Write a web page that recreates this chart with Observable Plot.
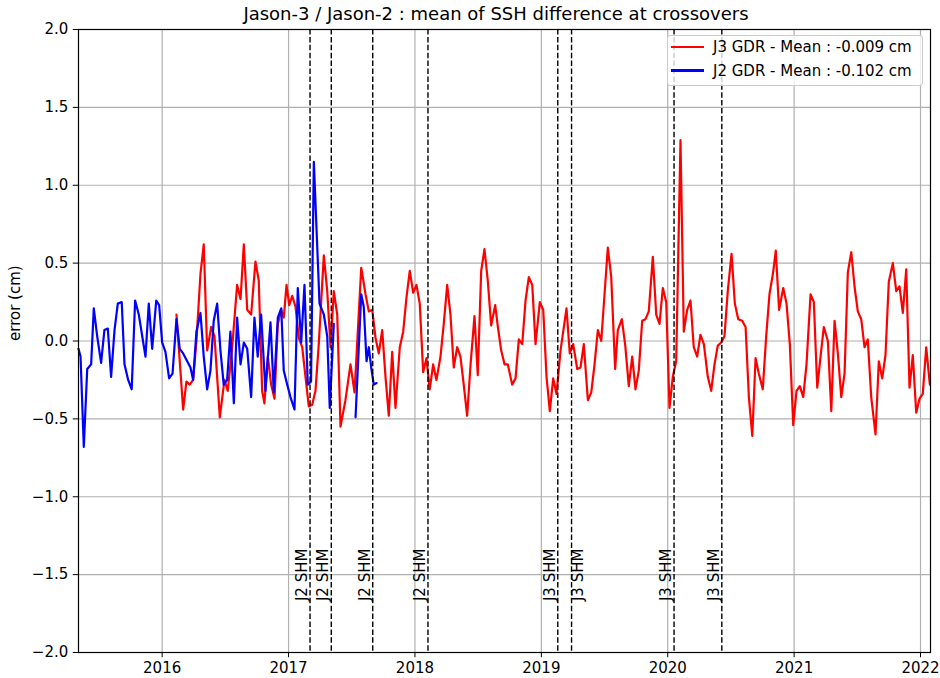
<!DOCTYPE html>
<html>
<head>
<meta charset="utf-8">
<script src="https://cdn.jsdelivr.net/npm/d3@7"></script>
<script src="https://cdn.jsdelivr.net/npm/@observablehq/plot@0.6"></script>
<style>
  html, body { margin: 0; padding: 0; background: #fff; }
  body { font-family: "DejaVu Sans", sans-serif; color: #000; }
  #wrap { position: relative; width: 940px; height: 678px; overflow: hidden; }
  #title { position: absolute; left: 0; top: 1.5px; width: 992px; text-align: center;
           font-size: 18px; line-height: 24px; white-space: nowrap; }
  #chart { position: absolute; left: 0; top: 24px; }
  #legend { position: absolute; left: 667px; top: 35px; width: 256px; height: 51px;
            box-sizing: border-box; border: 1.3px solid #cccccc; border-radius: 3px;
            background: rgba(255,255,255,0.8); }
  .lg-line { position: absolute; left: 3px; width: 33px; height: 2.2px; }
  .lg-text { position: absolute; left: 45px; font-size: 15px; line-height: 20px; white-space: nowrap; }
</style>
</head>
<body>
<div id="wrap">
  <div id="title"></div>
  <div id="chart"></div>
  <div id="legend"></div>
</div>
<script>
// ---------------- data ----------------
const titleText = "Jason-3 / Jason-2 : mean of SSH difference at crossovers";
const yLabel = "error (cm)";
const seriesNames = ["J3 GDR", "J2 GDR"];
const seriesMeans = [-0.009, -0.102];
const seriesColors = ["red", "blue"];

const xTicks = [2016, 2017, 2018, 2019, 2020, 2021, 2022];
const yTicks = [-2.0, -1.5, -1.0, -0.5, 0.0, 0.5, 1.0, 1.5, 2.0];

// Jason-3 (red)
const j3Years = [
  2016.113, 2016.166, 2016.192, 2016.218, 2016.245, 2016.271, 2016.303, 2016.329, 2016.356, 2016.388,
  2016.414, 2016.456, 2016.493, 2016.519, 2016.554, 2016.593, 2016.620, 2016.646, 2016.673, 2016.704,
  2016.738, 2016.764, 2016.791, 2016.809, 2016.836, 2016.862, 2016.889, 2016.915, 2016.942, 2016.962,
  2016.984, 2017.005, 2017.029, 2017.055, 2017.081, 2017.108, 2017.134, 2017.160, 2017.187, 2017.213,
  2017.239, 2017.279, 2017.306, 2017.332, 2017.358, 2017.385, 2017.411, 2017.450, 2017.490, 2017.522,
  2017.575, 2017.609, 2017.635, 2017.662, 2017.688, 2017.714, 2017.741, 2017.767, 2017.793, 2017.820,
  2017.846, 2017.880, 2017.907, 2017.933, 2017.959, 2017.986, 2018.012, 2018.038, 2018.065, 2018.091,
  2018.117, 2018.144, 2018.170, 2018.202, 2018.228, 2018.255, 2018.281, 2018.307, 2018.334, 2018.360,
  2018.386, 2018.413, 2018.440, 2018.471, 2018.497, 2018.524, 2018.550, 2018.576, 2018.603, 2018.635,
  2018.656, 2018.682, 2018.709, 2018.735, 2018.769, 2018.796, 2018.822, 2018.849, 2018.875, 2018.901,
  2018.928, 2018.954, 2018.988, 2019.015, 2019.041, 2019.067, 2019.094, 2019.120, 2019.152, 2019.199,
  2019.225, 2019.252, 2019.284, 2019.310, 2019.336, 2019.368, 2019.395, 2019.421, 2019.447, 2019.474,
  2019.500, 2019.526, 2019.553, 2019.584, 2019.605, 2019.637, 2019.664, 2019.692, 2019.719, 2019.745,
  2019.771, 2019.798, 2019.824, 2019.850, 2019.882, 2019.909, 2019.935, 2019.961, 2019.988, 2020.014,
  2020.040, 2020.067, 2020.101, 2020.127, 2020.154, 2020.180, 2020.206, 2020.233, 2020.259, 2020.286,
  2020.317, 2020.344, 2020.370, 2020.396, 2020.423, 2020.449, 2020.475, 2020.505, 2020.531, 2020.558,
  2020.589, 2020.616, 2020.642, 2020.669, 2020.695, 2020.721, 2020.752, 2020.779, 2020.805, 2020.832,
  2020.855, 2020.881, 2020.914, 2020.940, 2020.966, 2020.993, 2021.019, 2021.045, 2021.072, 2021.098,
  2021.130, 2021.156, 2021.183, 2021.209, 2021.235, 2021.267, 2021.294, 2021.320, 2021.346, 2021.373,
  2021.399, 2021.425, 2021.452, 2021.478, 2021.504, 2021.531, 2021.557, 2021.583, 2021.610, 2021.644,
  2021.670, 2021.697, 2021.723, 2021.749, 2021.781, 2021.808, 2021.834, 2021.860, 2021.887, 2021.913,
  2021.939, 2021.966, 2021.992, 2022.018, 2022.045, 2022.074
];
const j3Values = [
  0.17, -0.44, -0.26, -0.28, -0.25, 0.00, 0.43, 0.62, -0.06, 0.09,
  0.03, -0.49, -0.25, -0.32, -0.04, 0.36, 0.27, 0.62, 0.20, 0.17,
  0.51, 0.39, -0.32, -0.40, -0.10, -0.28, -0.37, 0.11, 0.20, 0.15,
  0.36, 0.23, 0.29, 0.22, 0.02, -0.04, -0.23, -0.42, -0.41, -0.32,
  -0.02, 0.55, 0.32, -0.04, 0.32, 0.17, -0.55, -0.38, -0.15, -0.33,
  0.47, 0.30, 0.19, 0.20, 0.02, -0.08, 0.07, -0.23, -0.48, -0.07,
  -0.43, -0.04, 0.06, 0.28, 0.45, 0.31, 0.36, 0.24, -0.20, -0.11,
  -0.31, -0.15, -0.25, -0.10, 0.11, 0.36, 0.17, -0.17, -0.04, -0.10,
  -0.28, -0.48, -0.15, 0.16, -0.22, 0.45, 0.59, 0.39, 0.10, 0.23,
  0.09, -0.06, -0.15, -0.15, -0.28, -0.24, 0.01, -0.02, 0.26, 0.41,
  0.36, -0.02, 0.25, 0.20, -0.23, -0.45, -0.24, -0.34, -0.06, 0.21,
  -0.08, -0.02, -0.18, -0.17, -0.02, -0.38, -0.33, -0.15, 0.07, 0.00,
  0.30, 0.60, 0.41, -0.18, 0.07, 0.14, -0.03, -0.29, -0.10, -0.31,
  -0.19, 0.13, 0.14, 0.19, 0.54, 0.17, 0.11, 0.34, 0.25, -0.43,
  -0.23, -0.13, 1.29, 0.06, 0.20, 0.26, -0.04, -0.10, 0.04, -0.02,
  -0.23, -0.32, -0.15, -0.03, -0.01, 0.03, 0.32, 0.56, 0.24, 0.14,
  0.13, 0.09, -0.36, -0.61, -0.11, -0.21, -0.31, 0.03, 0.30, 0.43,
  0.58, 0.20, 0.34, 0.24, -0.02, -0.54, -0.32, -0.29, -0.36, -0.15,
  0.30, 0.25, -0.30, -0.10, 0.09, 0.00, -0.45, 0.13, -0.08, -0.36,
  -0.21, 0.44, 0.57, 0.35, 0.19, 0.14, -0.04, 0.01, -0.36, -0.60,
  -0.13, -0.24, -0.09, 0.38, 0.50, 0.32, 0.35, 0.18, 0.46, -0.30,
  -0.09, -0.46, -0.37, -0.34, -0.04, -0.28
];

// Jason-2 (blue); null marks a gap in the record
const j2Years = [
  2015.338, 2015.354, 2015.380, 2015.407, 2015.438, 2015.459, 2015.486, 2015.517, 2015.543, 2015.570,
  2015.596, 2015.623, 2015.649, 2015.680, 2015.702, 2015.731, 2015.759, 2015.786, 2015.815, 2015.868,
  2015.894, 2015.921, 2015.953, 2015.976, 2016.000, 2016.026, 2016.055, 2016.082, 2016.113, 2016.139,
  2016.166, 2016.198, 2016.224, 2016.245, 2016.271, 2016.303, 2016.329, 2016.356, 2016.382, 2016.408,
  2016.435, 2016.461, 2016.487, 2016.514, 2016.540, 2016.567, 2016.593, 2016.620, 2016.646, 2016.673,
  2016.704, 2016.730, 2016.756, 2016.783, 2016.817, 2016.857, 2016.883, 2016.915, 2016.942, 2016.962,
  2016.989, 2017.015, 2017.047, 2017.073, 2017.100, 2017.126, 2017.152, 2017.178, 2017.200, 2017.245,
  2017.279, 2017.306, 2017.326, 2017.358, 2017.440, 2017.530, 2017.575, 2017.595, 2017.617, 2017.635,
  2017.654, 2017.674, 2017.696
];
const j2Values = [
  -0.05, -0.10, -0.68, -0.18, -0.15, 0.21, 0.03, -0.14, 0.07, 0.08,
  -0.23, 0.07, 0.24, 0.25, -0.15, -0.25, -0.31, 0.26, 0.17, -0.10,
  0.24, -0.05, 0.26, 0.23, -0.01, -0.07, -0.24, -0.21, 0.14, -0.05,
  -0.08, -0.13, -0.17, -0.25, 0.06, 0.18, -0.10, -0.31, -0.19, 0.13,
  0.24, -0.06, -0.28, -0.25, 0.06, -0.40, 0.15, -0.15, -0.01, -0.05,
  -0.36, 0.15, -0.10, 0.17, -0.32, 0.12, -0.33, 0.15, 0.21, -0.19,
  -0.28, -0.36, -0.44, 0.34, -0.01, 0.36, -0.28, -0.26, 1.15, 0.24,
  0.17, 0.03, -0.43, 0.11, null, -0.49, 0.30, 0.22, -0.13, -0.04,
  -0.17, -0.28, -0.27
];

// Safe-hold-mode events (line dates) and where their labels sit
const shmYears = [2017.170, 2017.338, 2017.666, 2018.103, 2019.130, 2019.239, 2020.050, 2020.428];
const shmLabelYears = [2017.170, 2017.338, 2017.666, 2018.103, 2019.130, 2019.353, 2020.050, 2020.428];
const shmLabels = ["J2 SHM", "J2 SHM", "J2 SHM", "J2 SHM", "J3 SHM", "J3 SHM", "J3 SHM", "J3 SHM"];

// ---------------- tables ----------------
const j3 = j3Years.map((t, i) => ({t, v: j3Values[i]}));
const j2 = j2Years.map((t, i) => ({t, v: j2Values[i] == null ? NaN : j2Values[i]}));
const shm = shmYears.map((t, i) => ({t, tl: shmLabelYears[i], label: shmLabels[i]}));

document.getElementById("title").textContent = titleText;

const plot = Plot.plot({
  width: 940,
  height: 654,
  marginLeft: 78,
  marginRight: 10,
  marginTop: 5,
  marginBottom: 26,
  style: {fontFamily: "DejaVu Sans", fontSize: "15px", background: "white", color: "black", overflow: "visible"},
  x: {type: "linear", domain: [2015.338, 2022.079]},
  y: {domain: [-2, 2]},
  marks: [
    Plot.gridX(xTicks, {stroke: "#b0b0b0", strokeOpacity: 1, strokeWidth: 1.2}),
    Plot.gridY(yTicks, {stroke: "#b0b0b0", strokeOpacity: 1, strokeWidth: 1.2}),
    Plot.line(j3, {x: "t", y: "v", stroke: seriesColors[0], strokeWidth: 2.2}),
    Plot.line(j2, {x: "t", y: "v", stroke: seriesColors[1], strokeWidth: 2.2}),
    Plot.ruleX(shm, {x: "t", stroke: "black", strokeWidth: 1.4, strokeDasharray: "5.5,2.4"}),
    Plot.text(shm, {x: "tl", y: -1.67, text: "label", rotate: -90, textAnchor: "start",
                    lineAnchor: "bottom", dx: -3, fontSize: 15, fill: "black"}),
    Plot.text([yLabel], {frameAnchor: "left", dx: -63.5, rotate: -90, fontSize: 15, fill: "black"}),
    Plot.frame({stroke: "black", strokeWidth: 1.2}),
    Plot.axisX({ticks: xTicks, tickFormat: d => String(d), tickSize: 5.25, tickPadding: 5, fontSize: 15, label: null}),
    Plot.axisY({ticks: yTicks, tickFormat: d3.format(".1f"), tickSize: 5.25, tickPadding: 5, fontSize: 15, label: null})
  ]
});
document.getElementById("chart").appendChild(plot);

// legend
const legend = document.getElementById("legend");
seriesNames.forEach((name, i) => {
  const cy = 11.2 + i * 23.3;
  const line = document.createElement("div");
  line.className = "lg-line";
  line.style.top = (cy - 1.1) + "px";
  line.style.background = seriesColors[i];
  legend.appendChild(line);
  const txt = document.createElement("div");
  txt.className = "lg-text";
  txt.style.top = (cy - 10) + "px";
  txt.textContent = `${name} - Mean : ${seriesMeans[i].toFixed(3)} cm`;
  legend.appendChild(txt);
});
</script>
</body>
</html>
